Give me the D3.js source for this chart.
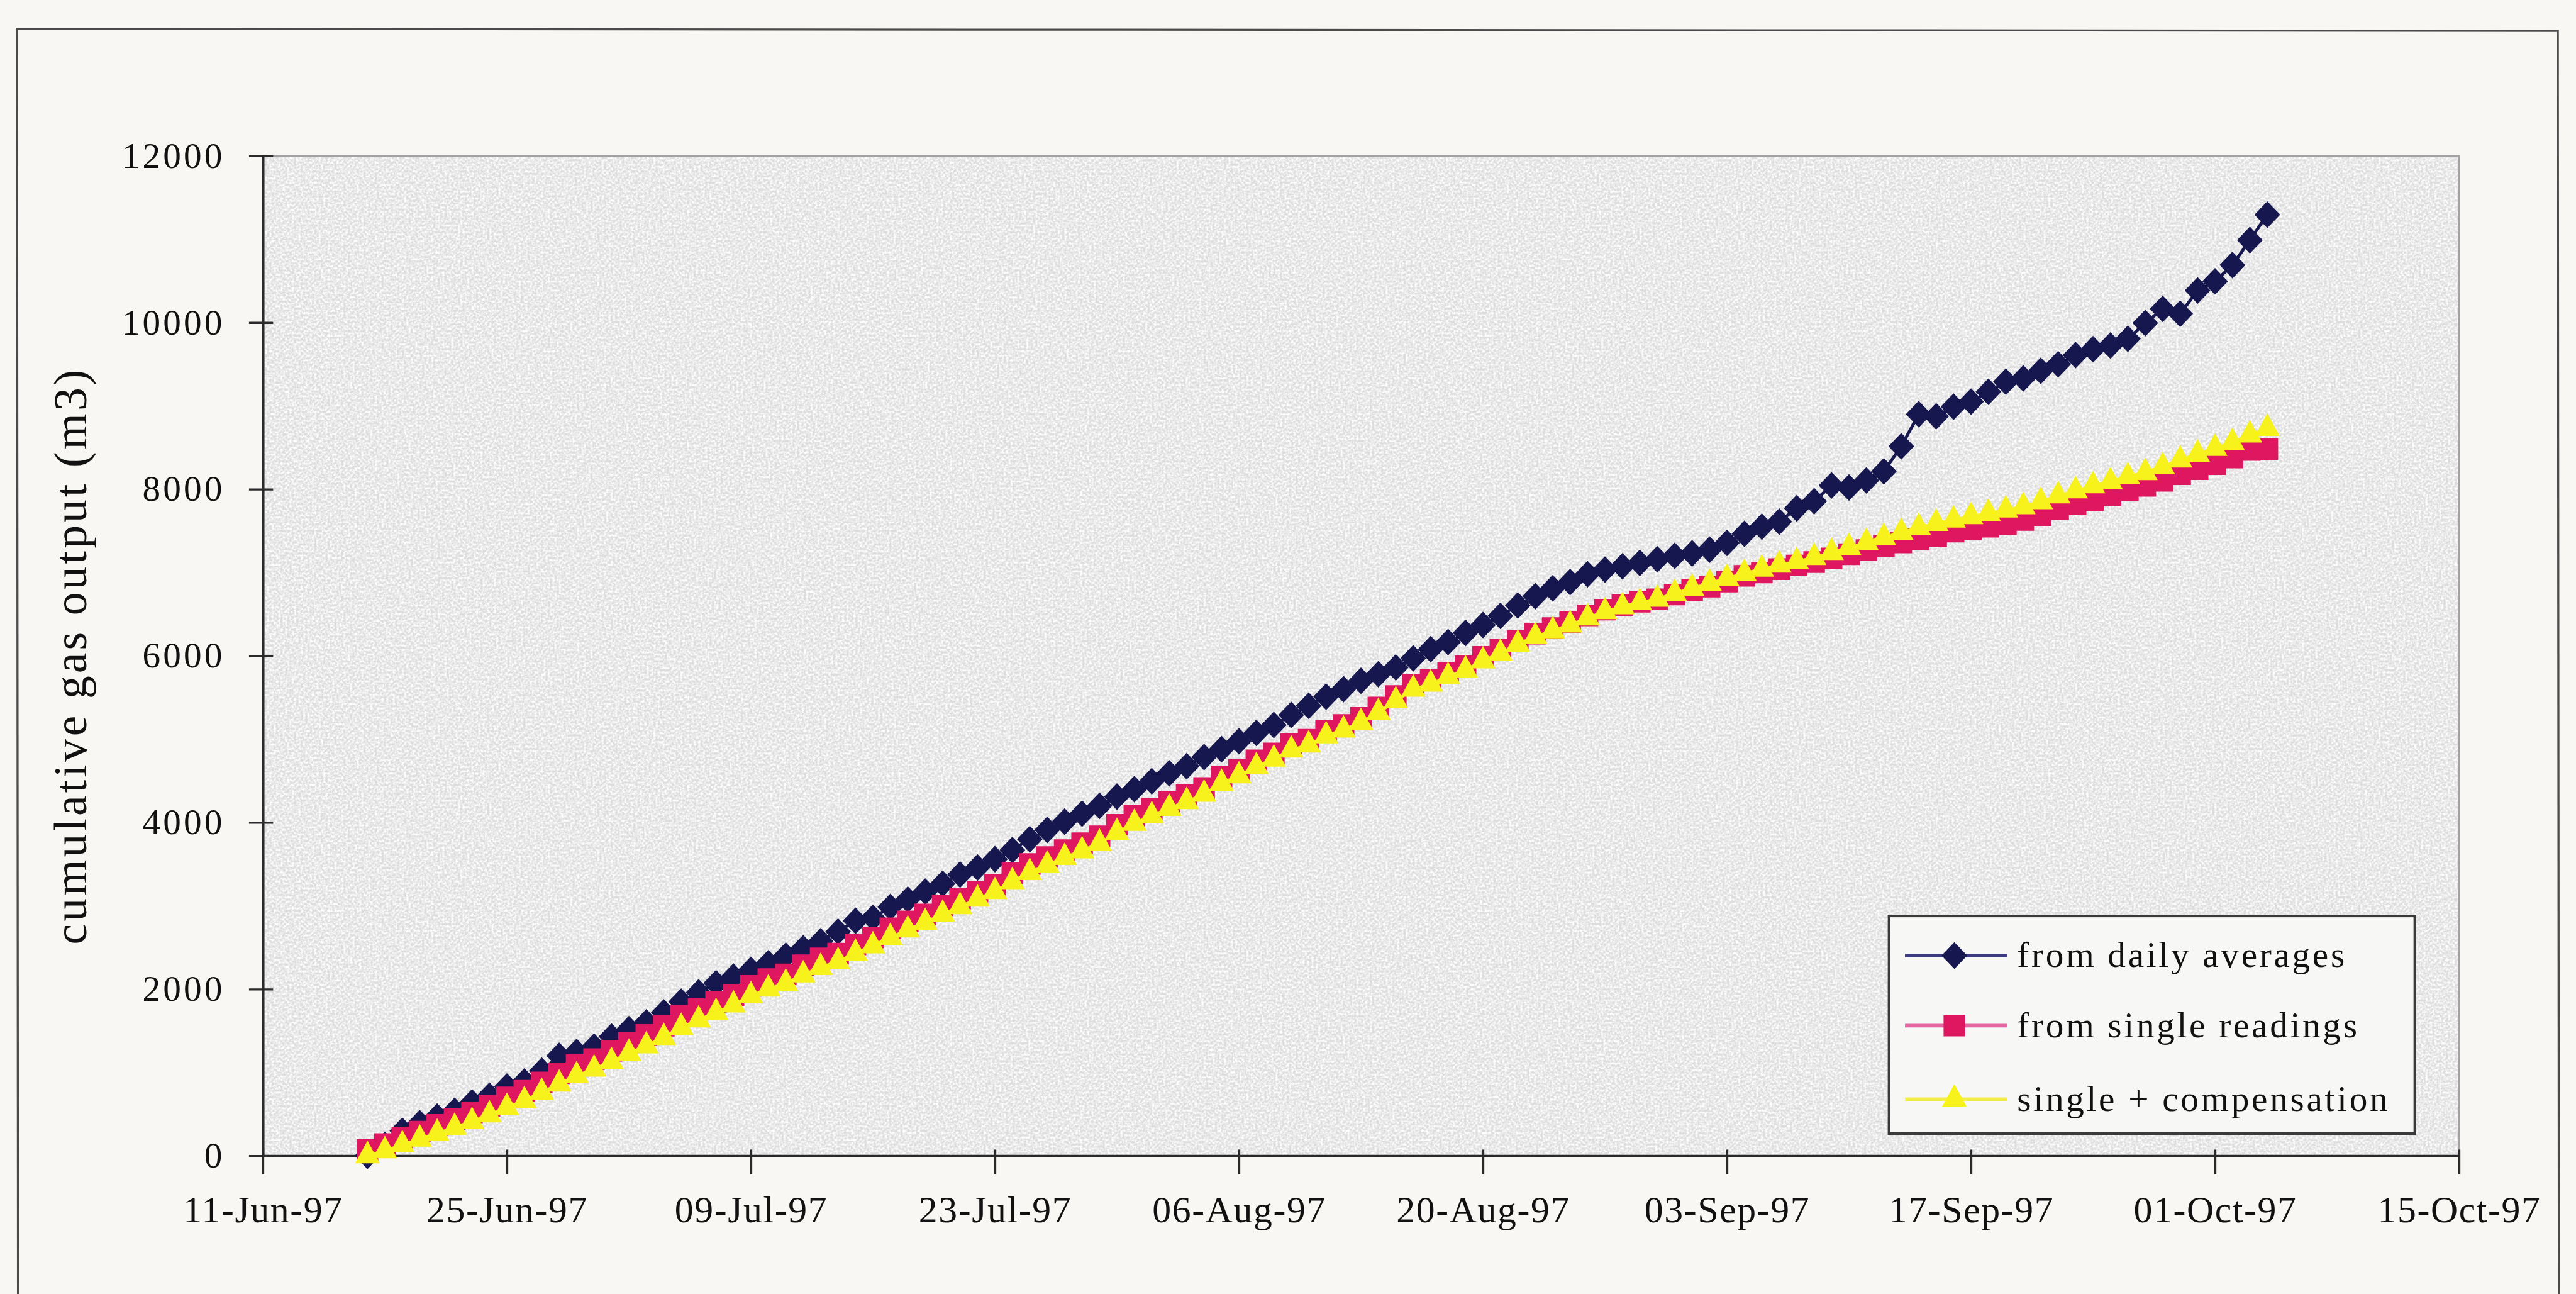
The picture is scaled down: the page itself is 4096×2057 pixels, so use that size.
<!DOCTYPE html>
<html>
<head>
<meta charset="utf-8">
<script src="https://cdn.jsdelivr.net/npm/d3@7/dist/d3.min.js"></script>
<style>
  html, body { margin: 0; padding: 0; background: #f8f7f3; }
  svg { display: block; }
  text { font-family: "Liberation Serif", "Times New Roman", serif; fill: #111; }
</style>
</head>
<body>
<svg id="chart" width="4096" height="2057"></svg>
<script>
// Cumulative gas output, one reading per day from 17-Jun-97 to 04-Oct-97
const firstDay = new Date(1997, 5, 17);
const lastDay = new Date(1997, 9, 4);

const seriesNames = ["from daily averages", "from single readings", "single + compensation"];

const dailyAverages = [
  0, 130, 300, 390, 470, 540, 640, 720, 830, 890,
  1020, 1200, 1245, 1310, 1430, 1520, 1600, 1720, 1850, 1960,
  2070, 2150, 2230, 2310, 2400, 2490, 2575, 2690, 2820, 2855,
  2985, 3075, 3170, 3265, 3375, 3460, 3560, 3670, 3800, 3910,
  4010, 4105, 4200, 4310, 4400, 4495, 4590, 4675, 4785, 4880,
  4975, 5075, 5170, 5290, 5400, 5510, 5600, 5700, 5780, 5860,
  5970, 6080, 6165, 6275, 6370, 6480, 6605, 6715, 6810, 6885,
  6980, 7035, 7075, 7115, 7160, 7200, 7230, 7275, 7355, 7465,
  7550, 7610, 7770, 7855, 8045, 8020, 8105, 8215, 8515, 8900,
  8875, 8990, 9050, 9170, 9290, 9330, 9420, 9500, 9610, 9680,
  9725, 9805, 9995, 10165, 10105, 10385, 10495, 10690, 10990, 11295
];

const singleReadings = [
  70, 140, 220, 290, 370, 440, 520, 600, 700, 780,
  880, 990, 1090, 1160, 1260, 1360, 1450, 1560, 1680, 1760,
  1846, 1929, 2039, 2121, 2177, 2287, 2370, 2425, 2536, 2619,
  2729, 2812, 2895, 3006, 3088, 3171, 3254, 3390, 3502, 3585,
  3668, 3751, 3834, 3972, 4082, 4165, 4249, 4331, 4413, 4552,
  4634, 4745, 4828, 4938, 4993, 5104, 5170, 5255, 5380, 5518,
  5656, 5712, 5795, 5877, 5988, 6070, 6181, 6266, 6333, 6402,
  6485, 6554, 6609, 6650, 6678, 6735, 6788, 6830, 6890, 6960,
  7000, 7040, 7085, 7125, 7170, 7220, 7270, 7320, 7360, 7400,
  7440, 7490, 7520, 7550, 7580, 7630, 7690, 7760, 7820, 7870,
  7930, 7990, 8040, 8100, 8180, 8240, 8300, 8380, 8470, 8480
];

const singleCompensated = [
  0, 60, 130, 200, 270, 340, 410, 490, 580, 660,
  760, 860, 960, 1040, 1130, 1230, 1320, 1420, 1540, 1630,
  1720, 1810, 1920, 2000, 2070, 2170, 2260, 2330, 2430, 2520,
  2620, 2710, 2800, 2900, 2990, 3080, 3170, 3290, 3400, 3490,
  3580, 3660, 3750, 3880, 3990, 4080, 4170, 4250, 4340, 4470,
  4560, 4670, 4760, 4870, 4930, 5040, 5110, 5200, 5320, 5460,
  5600, 5660, 5750, 5830, 5940, 6030, 6140, 6230, 6300, 6370,
  6455, 6530, 6590, 6640, 6680, 6750, 6810, 6870, 6930, 6990,
  7040, 7090, 7130, 7180, 7240, 7300, 7360, 7420, 7480, 7540,
  7590, 7630, 7670, 7710, 7750, 7790, 7850, 7920, 7980, 8040,
  8090, 8150, 8200, 8270, 8350, 8420, 8490, 8560, 8650, 8730
];

const xTickDates = ["1997-06-11", "1997-06-25", "1997-07-09", "1997-07-23", "1997-08-06",
                    "1997-08-20", "1997-09-03", "1997-09-17", "1997-10-01", "1997-10-15"];
const yTickValues = [0, 2000, 4000, 6000, 8000, 10000, 12000];
const yTitle = "cumulative gas output (m3)";

// ---- layout (everything drawn at 0.818 of the original sheet size) ----
const S = 0.818;
const k = v => v * S;
const plot = { left: k(511), right: k(4780), top: k(303), bottom: k(2246) };

const colors = { navy: "#17174f", pink: "#df1660", yellow: "#f7f21c" };

const svg = d3.select("#chart");
const parse = d3.timeParse("%Y-%m-%d");
const days = d3.timeDay.range(firstDay, d3.timeDay.offset(lastDay, 1));

const x = d3.scaleTime()
  .domain([parse(xTickDates[0]), parse(xTickDates[xTickDates.length - 1])])
  .range([plot.left, plot.right]);
const y = d3.scaleLinear().domain([0, 12000]).range([plot.bottom, plot.top]);

// ---- outer page frame ----
const frame = d3.path();
frame.moveTo(k(35), 2057);
frame.lineTo(k(33), k(56));
frame.lineTo(k(4972), k(60));
frame.lineTo(k(4974), 2057);
svg.append("path").attr("d", frame.toString())
  .attr("fill", "none").attr("stroke", "#4b4b4b").attr("stroke-width", k(4));

// ---- plot area with a grainy grey fill ----
const defs = svg.append("defs");
const grain = defs.append("filter").attr("id", "grain")
  .attr("x", 0).attr("y", 0).attr("width", "100%").attr("height", "100%");
grain.append("feTurbulence").attr("type", "fractalNoise")
  .attr("baseFrequency", 0.28).attr("numOctaves", 2).attr("seed", 11).attr("result", "noise");
grain.append("feColorMatrix").attr("type", "matrix")
  .attr("values", "0 0 0 0 1  0 0 0 0 1  0 0 0 0 1  2.4 0 0 0 -0.8");

svg.append("rect")
  .attr("x", plot.left).attr("y", plot.top)
  .attr("width", plot.right - plot.left).attr("height", plot.bottom - plot.top)
  .attr("fill", "#dcdcdc");
svg.append("rect")
  .attr("x", plot.left).attr("y", plot.top)
  .attr("width", plot.right - plot.left).attr("height", plot.bottom - plot.top)
  .attr("fill", "#fff").attr("filter", "url(#grain)");

// light top and right border of the plot area
svg.append("path")
  .attr("d", `M${plot.left},${plot.top}H${plot.right}V${plot.bottom}`)
  .attr("fill", "none").attr("stroke", "#a2a2a2").attr("stroke-width", k(4));

// ---- axes ----
const yAxis = d3.axisLeft(y).tickValues(yTickValues).tickFormat(d3.format("d"))
  .tickSize(k(27)).tickPadding(k(47)).tickSizeOuter(0);
const gy = svg.append("g").attr("transform", `translate(${plot.left},0)`).call(yAxis);
gy.select(".domain").attr("stroke", "#2a2a2a").attr("stroke-width", k(5));
gy.selectAll(".tick line").attr("x2", -k(27)).attr("x1", k(20))
  .attr("stroke", "#2a2a2a").attr("stroke-width", k(4));
gy.selectAll(".tick text")
  .attr("font-size", k(70)).attr("letter-spacing", k(5)).attr("fill", "#1a1a1a")
  .attr("font-family", "Liberation Serif, Times New Roman, serif");

const xAxis = d3.axisBottom(x).tickValues(xTickDates.map(parse))
  .tickFormat(d3.timeFormat("%d-%b-%y"))
  .tickSize(k(36)).tickPadding(k(42)).tickSizeOuter(0);
const gx = svg.append("g").attr("transform", `translate(0,${plot.bottom})`).call(xAxis);
gx.select(".domain").attr("stroke", "#2a2a2a").attr("stroke-width", k(5));
gx.selectAll(".tick line").attr("y1", -k(12))
  .attr("stroke", "#2a2a2a").attr("stroke-width", k(4));
gx.selectAll(".tick text")
  .attr("font-size", k(73)).attr("letter-spacing", k(2)).attr("fill", "#1a1a1a")
  .attr("font-family", "Liberation Serif, Times New Roman, serif");

svg.append("text")
  .attr("transform", `translate(${k(168)},${(plot.top + plot.bottom) / 2}) rotate(-90)`)
  .attr("text-anchor", "middle")
  .attr("font-size", k(90)).attr("letter-spacing", k(5))
  .text(yTitle);

// ---- marker shapes ----
function diamond(w, h) {
  const p = d3.path();
  p.moveTo(0, -h / 2); p.lineTo(w / 2, 0); p.lineTo(0, h / 2); p.lineTo(-w / 2, 0); p.closePath();
  return p.toString();
}
function square(a) {
  const p = d3.path();
  p.rect(-a / 2, -a / 2, a, a);
  return p.toString();
}
function triangle(w, h) {
  const p = d3.path();
  p.moveTo(0, -h * 2 / 3); p.lineTo(w / 2, h / 3); p.lineTo(-w / 2, h / 3); p.closePath();
  return p.toString();
}

const series = [
  { name: seriesNames[0], values: dailyAverages, color: colors.navy, legendLine: "#3b3b7e",
    shape: diamond(k(50), k(52)) },
  { name: seriesNames[1], values: singleReadings, color: colors.pink, legendLine: "#e565a0",
    shape: square(k(42)) },
  { name: seriesNames[2], values: singleCompensated, color: colors.yellow, legendLine: "#f2ee48",
    shape: triangle(k(48), k(44)) }
];

const line = d3.line().x(d => x(d.date)).y(d => y(d.value));

series.forEach(s => {
  const pts = days.map((date, i) => ({ date, value: s.values[i] }));
  const g = svg.append("g");
  g.append("path").datum(pts).attr("d", line)
    .attr("fill", "none").attr("stroke", s.color).attr("stroke-width", k(6));
  g.selectAll("path.mark").data(pts).join("path").attr("class", "mark")
    .attr("d", s.shape)
    .attr("transform", d => `translate(${x(d.date)},${y(d.value)})`)
    .attr("fill", s.color);
});

// ---- legend ----
const lg = svg.append("g").attr("transform", `translate(${k(3672)},${k(1780)})`);
lg.append("rect").attr("width", k(1022)).attr("height", k(423))
  .attr("fill", "#f7f7f5").attr("stroke", "#3a3a3a").attr("stroke-width", k(5));
const rowY = [k(77), k(213), k(356)];
series.forEach((s, i) => {
  const row = lg.append("g").attr("transform", `translate(0,${rowY[i]})`);
  row.append("line").attr("x1", k(31)).attr("x2", k(230)).attr("y1", 0).attr("y2", 0)
    .attr("stroke", s.legendLine).attr("stroke-width", k(7));
  row.append("path").attr("d", s.shape).attr("transform", `translate(${k(127)},0)`)
    .attr("fill", s.color);
  row.append("text").attr("x", k(249)).attr("dy", "0.32em")
    .attr("font-size", k(70)).attr("letter-spacing", k(4.5))
    .text(s.name);
});
</script>
</body>
</html>
